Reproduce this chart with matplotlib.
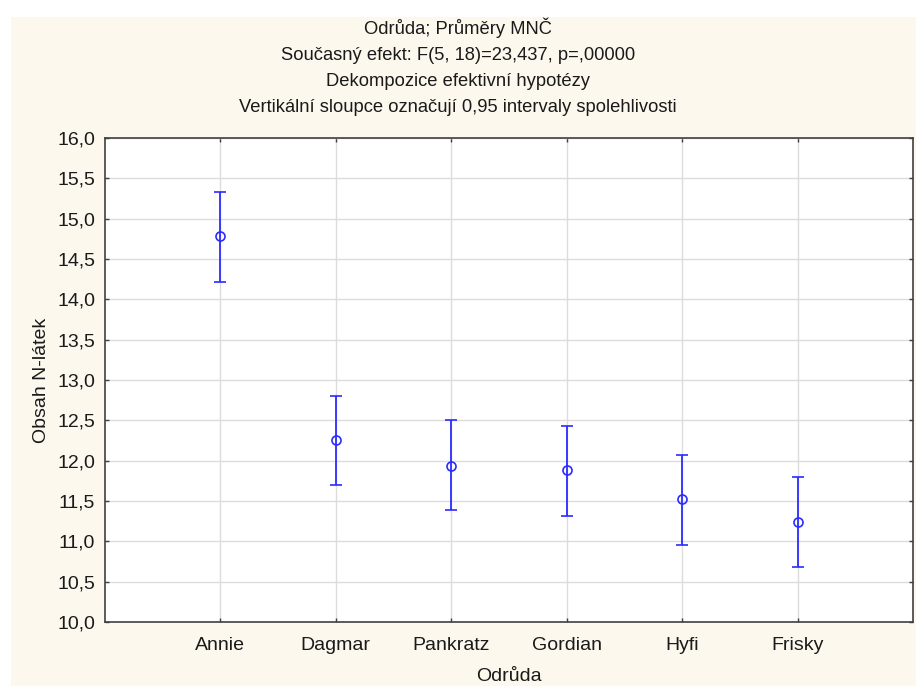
import matplotlib
matplotlib.use('Agg')
import matplotlib.pyplot as plt
from matplotlib.patches import Rectangle
from matplotlib.ticker import FuncFormatter, MultipleLocator
import numpy as np

# data
odrudy = ['Annie', 'Dagmar', 'Pankratz', 'Gordian', 'Hyfi', 'Frisky']
prumery = [14.78, 12.25, 11.94, 11.88, 11.53, 11.24]
dolni_mez = [14.22, 11.70, 11.39, 11.31, 10.96, 10.68]
horni_mez = [15.33, 12.80, 12.50, 12.43, 12.07, 11.80]

titulky = ['Odrůda; Průměry MNČ',
           'Současný efekt: F(5, 18)=23,437, p=,00000',
           'Dekompozice efektivní hypotézy',
           'Vertikální sloupce označují 0,95 intervaly spolehlivosti']

plt.rcParams['font.family'] = ['Liberation Sans', 'DejaVu Sans']

fig = plt.figure(figsize=(9.16, 6.86), dpi=100, facecolor='white')
# krémové pozadí panelu (pod osami)
fig.patches.append(Rectangle((11 / 916, 0), 1, 1 - 17 / 686, transform=fig.transFigure,
                             facecolor='#fdf8ee', edgecolor='none', zorder=-10))

ax = fig.add_axes([105 / 916, (686 - 622) / 686, (913 - 105) / 916, (622 - 138) / 686])
ax.set_facecolor('white')
ax.set_zorder(1)

x = np.arange(1, len(odrudy) + 1)
prumery = np.array(prumery)
yerr = [prumery - np.array(dolni_mez), np.array(horni_mez) - prumery]
ax.errorbar(x, prumery, yerr=yerr, fmt='o', color='#2b2bff', ecolor='#2b2bff',
            mfc='none', mec='#2b2bff', ms=6.5, mew=1.2, elinewidth=1.3,
            capsize=4.5, capthick=1.3, zorder=3)

ax.set_xlim(0, 7)
ax.set_ylim(10, 16)
ax.set_xticks(x)
ax.set_xticklabels(odrudy)
ax.yaxis.set_major_locator(MultipleLocator(0.5))
ax.yaxis.set_major_formatter(FuncFormatter(lambda v, p: f'{v:.1f}'.replace('.', ',')))
ax.grid(True, color='#dcdcdc', linewidth=1)
ax.set_axisbelow(True)
ax.tick_params(direction='in', top=True, right=True, length=3, width=1,
               color='#404040', labelsize=14, labelcolor='#1a1a1a')
ax.tick_params(axis='x', pad=11)
ax.tick_params(axis='y', pad=7)
for s in ax.spines.values():
    s.set_color('#404040')
    s.set_linewidth(1.2)

ax.set_xlabel('Odrůda', fontsize=14, color='#1a1a1a', labelpad=10)
ax.set_ylabel('Obsah N-látek', fontsize=14, color='#1a1a1a', labelpad=5)

# titulek ve čtyřech řádcích
for i, t in enumerate(titulky):
    fig.text(0.5, 1 - (34 + i * 26) / 686, t, ha='center', va='baseline',
             fontsize=13.2, color='#1a1a1a')

fig.savefig('out.png', dpi=100, facecolor=fig.get_facecolor())
